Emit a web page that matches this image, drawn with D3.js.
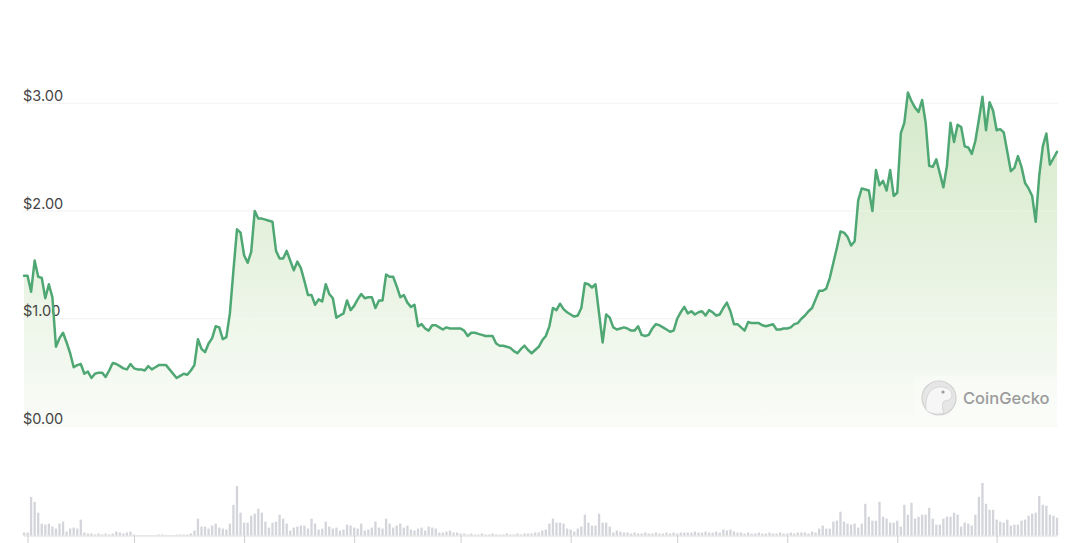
<!DOCTYPE html>
<html><head><meta charset="utf-8">
<script src="https://cdn.jsdelivr.net/npm/d3@7"></script>
<style>
html,body{margin:0;padding:0;background:#fff;}
svg{display:block;font-family:Inter,"Helvetica Neue",Arial,sans-serif;}
</style>
</head><body>
<svg id="chart" width="1080" height="543"></svg>
<script>
// ---- data ----
const startDate = "2022-05-31";
const prices = [
1.40,1.40,1.25,1.54,1.39,1.38,1.19,1.32,1.20,0.74,
0.82,0.87,0.78,0.68,0.55,0.57,0.58,0.49,0.51,0.45,
0.49,0.50,0.50,0.46,0.52,0.59,0.58,0.56,0.54,0.53,
0.58,0.54,0.53,0.53,0.52,0.56,0.53,0.55,0.57,0.57,
0.57,0.53,0.49,0.45,0.47,0.49,0.48,0.52,0.57,0.81,
0.72,0.69,0.77,0.82,0.93,0.92,0.81,0.83,1.05,1.45,
1.83,1.80,1.59,1.52,1.62,2.00,1.93,1.93,1.92,1.91,
1.90,1.63,1.56,1.56,1.63,1.54,1.45,1.53,1.47,1.35,
1.22,1.22,1.13,1.18,1.16,1.32,1.23,1.19,1.01,1.03,
1.05,1.17,1.08,1.12,1.18,1.23,1.19,1.20,1.20,1.10,
1.17,1.17,1.41,1.39,1.39,1.30,1.20,1.22,1.15,1.11,
1.13,0.93,0.95,0.91,0.89,0.94,0.94,0.92,0.90,0.92,
0.91,0.91,0.91,0.91,0.89,0.84,0.87,0.87,0.86,0.85,
0.84,0.84,0.84,0.77,0.75,0.75,0.74,0.73,0.70,0.68,
0.72,0.75,0.71,0.68,0.71,0.74,0.80,0.84,0.93,1.10,
1.08,1.14,1.09,1.06,1.04,1.02,1.03,1.10,1.33,1.32,
1.29,1.32,1.05,0.78,1.04,1.01,0.92,0.90,0.91,0.92,
0.91,0.89,0.89,0.93,0.85,0.84,0.85,0.91,0.95,0.94,
0.92,0.90,0.88,0.89,1.00,1.06,1.11,1.05,1.07,1.04,
1.06,1.07,1.03,1.08,1.06,1.03,1.04,1.10,1.15,1.07,
0.95,0.95,0.92,0.89,0.97,0.96,0.96,0.96,0.94,0.93,
0.94,0.95,0.90,0.90,0.91,0.91,0.92,0.95,0.96,1.00,
1.03,1.07,1.10,1.18,1.26,1.26,1.28,1.38,1.52,1.66,
1.81,1.80,1.76,1.68,1.72,2.10,2.21,2.20,2.19,2.00,
2.38,2.24,2.28,2.19,2.38,2.14,2.17,2.72,2.82,3.10,
3.02,2.96,2.92,3.03,2.82,2.42,2.41,2.48,2.35,2.22,
2.42,2.82,2.64,2.80,2.78,2.60,2.59,2.53,2.65,2.85,
3.06,2.75,3.01,2.93,2.75,2.76,2.73,2.55,2.37,2.40,
2.51,2.41,2.26,2.21,2.14,1.90,2.33,2.60,2.72,2.43,
2.49,2.55
];
const volumes = [
3,3,39,34,23,12,11,12,9,7,12,14,4,7,8,7,16,3,2,2,1,2,1,2,1,2,4,3,2,3,4,1,
0.5,0.5,0.5,0.5,0.5,0.5,1,1,0.5,0.5,0.5,1,1,1,1,2,
5,17,9,9,7,10,12,8,7,6,12,31,50,23,13,13,20,22,27,23,14,8,13,14,
21,17,12,5,8,9,10,10,7,17,12,6,7,14,9,7,8,5,6,11,10,8,7,12,5,6,8,14,8,7,17,12,8,10,12,8,10,6,5,7,8,5,9,8,7,3,3,4,5,3,3,
2,2,1,2,1,1,2,1,1,2,1,1,1,2,1,1,2,1,2,2,2,3,3,
5,6,12,17,13,13,12,7,6,4,7,9,21,13,10,10,22,13,13,9,
3,5,4,3,3,2,3,2,2,3,2,2,3,2,2,3,2,3,2,3,3,3,3,4,3,3,4,3,3,4,3,
6,5,6,4,
3,3,2,3,2,2,3,2,2,3,2,2,3,2,2,3,2,3,3,
3,2,4,3,7,10,7,7,14,15,24,14,12,11,12,8,12,32,19,15,15,34,19,17,13,13,15,9,31,21,33,17,19,21,21,28,17,11,11,17,19,19,23,21,9,13,12,10,21,39,53,32,26,26,16,14,13,16,10,11,11,15,16,20,22,23,40,31,30,21,20,18
];
const priceTicks = [0, 1, 2, 3];
const watermark = "CoinGecko";

// ---- setup ----
const svg = d3.select("#chart");
const parse = d3.utcParse("%Y-%m-%d");
const t0 = parse(startDate);
const rows = prices.map((p, i) => ({date: d3.utcDay.offset(t0, i), price: p, volume: volumes[i]}));

const x = d3.scaleUtc()
  .domain([rows[0].date, rows[rows.length - 1].date])
  .range([24, 1057]);
const y = d3.scaleLinear().domain([0, 3]).range([426.5, 103.3]);
const yv = d3.scaleLinear().domain([0, 53]).range([535.5, 483]);

// gradient
const defs = svg.append("defs");
const grad = defs.append("linearGradient").attr("id", "fillGrad")
  .attr("gradientUnits", "userSpaceOnUse")
  .attr("x1", 0).attr("x2", 0).attr("y1", y(3.1)).attr("y2", y(0));
grad.append("stop").attr("offset", "0%").attr("stop-color", "#d4e9c9");
grad.append("stop").attr("offset", "100%").attr("stop-color", "#fafcf8");

// grid lines
svg.append("g").selectAll("line").data(priceTicks).join("line")
  .attr("x1", 23).attr("x2", 1058)
  .attr("y1", d => y(d)).attr("y2", d => y(d))
  .attr("stroke", "#eeeeee").attr("stroke-width", 1);

// area
const area = d3.area().x(d => x(d.date)).y0(y(0)).y1(d => y(d.price)).curve(d3.curveLinear);
svg.append("path").datum(rows).attr("d", area).attr("fill", "url(#fillGrad)");

// grid lines faintly through fill
svg.append("g").selectAll("line").data(priceTicks).join("line")
  .attr("x1", 23).attr("x2", 1058)
  .attr("y1", d => y(d)).attr("y2", d => y(d))
  .attr("stroke", "#ffffff").attr("stroke-opacity", 0.35).attr("stroke-width", 1);

// y labels
svg.append("g").selectAll("text").data(priceTicks).join("text")
  .attr("x", 23).attr("y", d => y(d) - 2.5)
  .attr("font-size", 14.5).attr("fill", "#444")
  .text(d => "$" + d.toFixed(2));

// watermark
const wm = svg.append("g");
wm.append("rect").attr("x", 914).attr("y", 376).attr("width", 148).attr("height", 42)
  .attr("fill", "#ffffff").attr("fill-opacity", 0.3);
wm.append("circle").attr("cx", 939).attr("cy", 398).attr("r", 17)
  .attr("fill", "#e6e6e6").attr("stroke", "#d2d2d2").attr("stroke-width", 1.2);
wm.append("path")
  .attr("d", "M926,410 C925,398 928,389 938,387 C946,386 952,390 952,395 C952,399 948,401 944,401 C942,404 942,408 944,413 C937,415 930,414 926,410 Z")
  .attr("fill", "#f6f6f6").attr("stroke", "#cfcfcf").attr("stroke-width", 0.8);
wm.append("circle").attr("cx", 943).attr("cy", 392).attr("r", 1.6).attr("fill", "#9a9a9a");
wm.append("text").attr("x", 963).attr("y", 404)
  .attr("font-size", 16.5).attr("fill", "#9b9b9b").attr("font-weight", 500)
  .text(watermark);

// line
const line = d3.line().x(d => x(d.date)).y(d => y(d.price)).curve(d3.curveLinear);
svg.append("path").datum(rows).attr("d", line)
  .attr("fill", "none").attr("stroke", "#4fa774").attr("stroke-width", 2.5)
  .attr("stroke-linejoin", "round").attr("stroke-linecap", "round");

// volume bars
const bw = 2.3;
svg.append("g").selectAll("rect").data(rows).join("rect")
  .attr("x", d => x(d.date) - bw / 2)
  .attr("y", d => yv(d.volume))
  .attr("width", bw)
  .attr("height", d => yv(0) - yv(d.volume))
  .attr("fill", "#d3d5da");

// x axis (month ticks)
const xAxis = d3.axisBottom(x)
  .ticks(d3.utcMonth.every(1))
  .tickSize(8)
  .tickFormat("");
const gx = svg.append("g").attr("transform", `translate(0,${yv(0)})`).call(xAxis);
gx.select(".domain").attr("stroke", "#dcdcdc").attr("d", `M24,0.5H1057`);
gx.selectAll(".tick line").attr("stroke", "#cfcfcf");
</script>
</body></html>
